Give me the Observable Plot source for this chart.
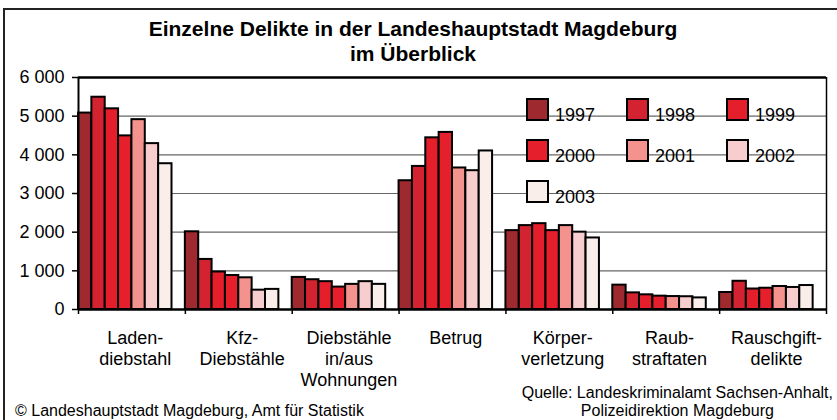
<!DOCTYPE html>
<html>
<head>
<meta charset="utf-8">
<script src="https://cdn.jsdelivr.net/npm/d3@7"></script>
<script src="https://cdn.jsdelivr.net/npm/@observablehq/plot@0.6"></script>
<style>
  html, body { margin: 0; padding: 0; background: #fff; }
  #wrap { position: relative; width: 837px; height: 420px; overflow: hidden; background: #fff;
          font-family: "Liberation Sans", Arial, sans-serif; color: #000; }
  #frame { position: absolute; left: 3px; top: 8px; width: 860px; height: 460px; border: 2.4px solid #222; box-sizing: border-box; }
  #title { position: absolute; left: 0; width: 826px; top: 16px; text-align: center; font-weight: bold; font-size: 21px; line-height: 25px; }
  #chart { position: absolute; left: 0; top: 0; }
  .sw { position: absolute; width: 23px; height: 23px; border: 2px solid #000; box-sizing: border-box; }
  .lt { position: absolute; font-size: 18px; line-height: 23px; white-space: nowrap; }
  #src { position: absolute; right: 4px; top: 384px; font-size: 16px; line-height: 18px; text-align: center; white-space: nowrap; }
  #copy { position: absolute; left: 15px; top: 402px; font-size: 16px; line-height: 18px; white-space: nowrap; }
</style>
</head>
<body>
<div id="wrap">
  <div id="frame"></div>
  <div id="title"></div>
  <div id="chart"></div>
  <div id="legend"></div>
  <div id="src"></div>
  <div id="copy"></div>
</div>
<script>
// ---- data ----
const categories = ["Ladendiebstahl", "Kfz-Diebstähle", "Diebstähle in/aus Wohnungen", "Betrug", "Körperverletzung", "Raubstraftaten", "Rauschgiftdelikte"];
const categoryLabels = ["Laden-\ndiebstahl", "Kfz-\nDiebstähle", "Diebstähle\nin/aus\nWohnungen", "Betrug", "Körper-\nverletzung", "Raub-\nstraftaten", "Rauschgift-\ndelikte"];
const years = ["1997", "1998", "1999", "2000", "2001", "2002", "2003"];
const s1997 = [5080, 2010, 830, 3330, 2040, 630, 440];
const s1998 = [5490, 1295, 770, 3700, 2170, 430, 730];
const s1999 = [5190, 970, 720, 4440, 2220, 380, 530];
const s2000 = [4490, 880, 580, 4580, 2040, 345, 550];
const s2001 = [4910, 820, 650, 3660, 2170, 335, 595];
const s2002 = [4290, 500, 720, 3590, 2000, 330, 570];
const s2003 = [3770, 520, 650, 4100, 1850, 300, 620];
const series = [s1997, s1998, s1999, s2000, s2001, s2002, s2003];
const colors = ["#9e2a2f", "#d42330", "#e41e2b", "#e61f2c", "#f4938e", "#f8cdcd", "#faeeeb"];
const yTicks = [0, 1000, 2000, 3000, 4000, 5000, 6000];
const titleLines = ["Einzelne Delikte in der Landeshauptstadt Magdeburg", "im Überblick"];
const sourceLines = ["Quelle: Landeskriminalamt Sachsen-Anhalt,", "Polizeidirektion Magdeburg"];
const copyright = "© Landeshauptstadt Magdeburg, Amt für Statistik";

// ---- build ----
const rows = [];
years.forEach((yr, j) => categories.forEach((c, i) => rows.push({cat: c, i, year: yr, j, value: series[j][i]})));
const slot = years.length + 1;
const xMax = categories.length * slot;
const fmt = d3.formatLocale({decimal: ",", thousands: " ", grouping: [3], currency: ["", ""]}).format(",");
const font = "'Liberation Sans', Arial, sans-serif";

const chart = Plot.plot({
  width: 837,
  height: 420,
  marginLeft: 78,
  marginRight: 11,
  marginTop: 77,
  marginBottom: 111,
  x: {domain: [0, xMax], axis: null},
  y: {domain: [0, 6000], axis: null},
  color: {domain: years, range: colors},
  style: {fontFamily: font, fontSize: "18px", color: "#000", background: "transparent", overflow: "visible"},
  marks: [
    Plot.gridY(yTicks.slice(1, -1), {stroke: "#666", strokeOpacity: 1, strokeWidth: 1.2}),
    Plot.ruleY([6000], {stroke: "#000", strokeWidth: 2.5}),
    Plot.ruleX([xMax], {stroke: "#000", strokeWidth: 1.5}),
    Plot.rectY(rows, {
      x1: d => d.i * slot + d.j,
      x2: d => d.i * slot + d.j + 1,
      y: "value",
      fill: "year",
      stroke: "#000",
      strokeWidth: 2
    }),
    Plot.ruleX([0], {stroke: "#000", strokeWidth: 2}),
    Plot.ruleY([0], {stroke: "#000", strokeWidth: 2.5}),
    Plot.axisY({ticks: yTicks, tickSize: 6, tickPadding: 8, tickFormat: fmt, fontSize: 18, label: null, strokeWidth: 1.5}),
    Plot.axisX({ticks: d3.range(0, xMax + 1, slot), tickSize: 5, tickFormat: () => "", label: null, strokeWidth: 1.5}),
    Plot.text(categoryLabels, {
      x: (d, i) => i * slot + 4.25,
      y: () => 0,
      text: d => d,
      lineAnchor: "top",
      dy: 20,
      lineHeight: 1.15,
      fontSize: 18,
      fill: "#000"
    })
  ]
});
document.getElementById("chart").appendChild(chart);

// title
document.getElementById("title").innerHTML = titleLines.join("<br>");

// legend
const legend = document.getElementById("legend");
const legX0 = 526, legY0 = 98, colStep = 100, rowStep = 41;
years.forEach((yr, k) => {
  const cx = legX0 + (k % 3) * colStep;
  const cy = legY0 + Math.floor(k / 3) * rowStep;
  const sw = document.createElement("div");
  sw.className = "sw";
  sw.style.left = cx + "px";
  sw.style.top = cy + "px";
  sw.style.background = colors[k];
  legend.appendChild(sw);
  const t = document.createElement("div");
  t.className = "lt";
  t.style.left = (cx + 29) + "px";
  t.style.top = (cy + 5.5) + "px";
  t.textContent = yr;
  legend.appendChild(t);
});

document.getElementById("src").innerHTML = sourceLines.join("<br>");
document.getElementById("copy").textContent = copyright;
</script>
</body>
</html>
